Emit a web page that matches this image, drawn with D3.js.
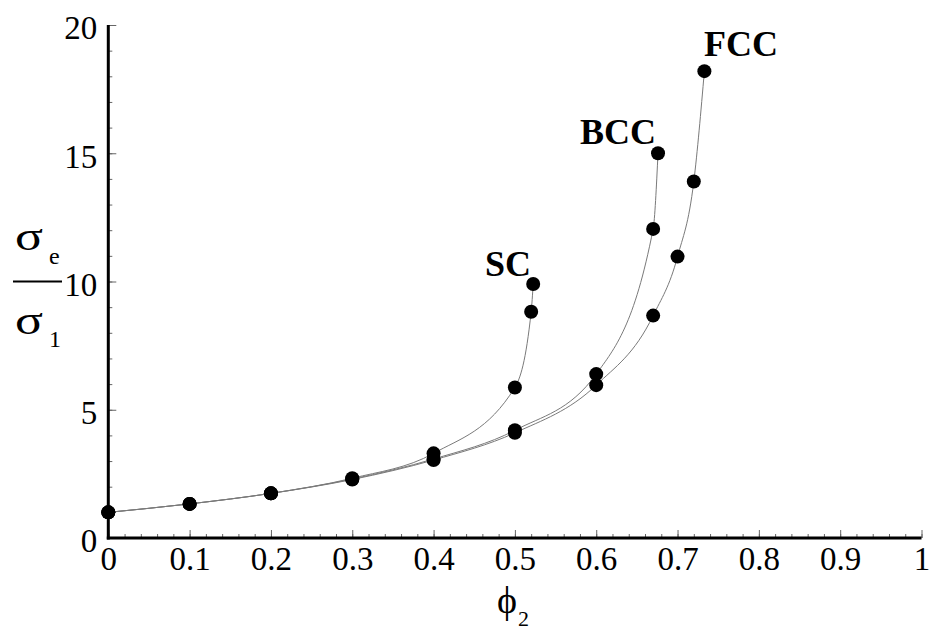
<!DOCTYPE html>
<html>
<head>
<meta charset="utf-8">
<script src="https://cdn.jsdelivr.net/npm/d3@7"></script>
<style>
  html, body { margin: 0; padding: 0; background: #fff; }
  svg { display: block; }
  text { font-family: "Liberation Serif", "Times New Roman", serif; fill: #000; }
</style>
</head>
<body>
<svg id="chart" width="929" height="633"></svg>
<script>
// ---- data ----
const scX   = [0, 0.1, 0.2, 0.3, 0.4, 0.5, 0.52, 0.5225];
const scY   = [1.0, 1.33, 1.74, 2.33, 3.3, 5.87, 8.82, 9.9];
const bccX  = [0, 0.1, 0.2, 0.3, 0.4, 0.5, 0.6, 0.67, 0.676];
const bccY  = [1.0, 1.33, 1.74, 2.3, 3.08, 4.2, 6.39, 12.05, 15.0];
const fccX  = [0, 0.1, 0.2, 0.3, 0.4, 0.5, 0.6, 0.67, 0.7, 0.72, 0.733];
const fccY  = [1.0, 1.33, 1.74, 2.28, 3.04, 4.1, 5.96, 8.67, 10.97, 13.9, 18.2];
const seriesNames = ["SC", "BCC", "FCC"];
const xTicks = [0, 0.1, 0.2, 0.3, 0.4, 0.5, 0.6, 0.7, 0.8, 0.9, 1];
const xTickLabels = ["0", "0.1", "0.2", "0.3", "0.4", "0.5", "0.6", "0.7", "0.8", "0.9", "1"];
const yTicks = [0, 5, 10, 15, 20];
const yTickLabels = ["0", "5", "10", "15", "20"];

const series = [
  { name: seriesNames[0], xs: scX,  ys: scY },
  { name: seriesNames[1], xs: bccX, ys: bccY },
  { name: seriesNames[2], xs: fccX, ys: fccY }
];

const svg = d3.select("#chart");
const x = d3.scaleLinear().domain([0, 1]).range([108.3, 921.5]);
const y = d3.scaleLinear().domain([0, 20]).range([538, 25]);

// minor ticks
const xMinor = d3.range(0, 1.0001, 0.02);
const yMinor = d3.range(0, 20.0001, 1);

const gx = svg.append("g").attr("transform", `translate(0,${y(0)})`);
gx.call(d3.axisBottom(x).tickValues(xMinor).tickSize(-4).tickFormat(""))
  .call(g => g.select(".domain").remove())
  .call(g => g.selectAll("line").attr("stroke", "#666").attr("stroke-width", 1));
const gx2 = svg.append("g").attr("transform", `translate(0,${y(0)})`);
gx2.call(d3.axisBottom(x).tickValues(xTicks).tickSize(-8).tickPadding(9)
      .tickFormat((d, i) => xTickLabels[i]))
  .call(g => g.select(".domain").remove())
  .call(g => g.selectAll("line").attr("stroke", "#666").attr("stroke-width", 1))
  .call(g => g.selectAll("text").attr("font-size", 33).attr("font-family", "Liberation Serif").attr("fill", "#000"));

const gy = svg.append("g").attr("transform", `translate(${x(0)},0)`);
gy.call(d3.axisLeft(y).tickValues(yMinor).tickSize(-4).tickFormat(""))
  .call(g => g.select(".domain").remove())
  .call(g => g.selectAll("line").attr("stroke", "#666").attr("stroke-width", 1));
const gy2 = svg.append("g").attr("transform", `translate(${x(0)},0)`);
gy2.call(d3.axisLeft(y).tickValues(yTicks).tickSize(-8).tickPadding(11)
      .tickFormat((d, i) => yTickLabels[i]))
  .call(g => g.select(".domain").remove())
  .call(g => g.selectAll("line").attr("stroke", "#666").attr("stroke-width", 1))
  .call(g => g.selectAll("text").attr("font-size", 33).attr("dy", "0.42em")
      .attr("font-family", "Liberation Serif").attr("fill", "#000"));

// axis lines
svg.append("line").attr("x1", x(0)).attr("x2", x(0)).attr("y1", y(20)).attr("y2", y(0) + 1.5)
  .attr("stroke", "#000").attr("stroke-width", 3);
svg.append("line").attr("x1", x(0) - 1.5).attr("x2", x(1)).attr("y1", y(0)).attr("y2", y(0))
  .attr("stroke", "#000").attr("stroke-width", 3);

// curves
const line = d3.line().x(d => x(d[0])).y(d => y(d[1])).curve(d3.curveMonotoneX);
series.forEach(s => {
  const pts = s.xs.map((v, i) => [v, s.ys[i]]);
  svg.append("path").attr("d", line(pts)).attr("fill", "none")
    .attr("stroke", "#7a7a7a").attr("stroke-width", 1);
});
series.forEach(s => {
  svg.append("g").selectAll("circle")
    .data(s.xs.map((v, i) => [v, s.ys[i]]))
    .join("circle")
    .attr("cx", d => x(d[0])).attr("cy", d => y(d[1])).attr("r", 7)
    .attr("fill", "#000");
});

// series labels
const labelPos = [
  { x: 485, y: 276 },
  { x: 580, y: 144 },
  { x: 704, y: 56 }
];
series.forEach((s, i) => {
  svg.append("text").attr("x", labelPos[i].x).attr("y", labelPos[i].y)
    .attr("font-size", 36).attr("font-weight", "bold").text(s.name);
});

// y-axis label: sigma_e / sigma_1
svg.append("text").attr("transform", "translate(15,250) scale(1.3,1)").attr("font-size", 40).text("σ");
svg.append("text").attr("x", 49).attr("y", 264).attr("font-size", 24).text("e");
svg.append("line").attr("x1", 13).attr("x2", 62).attr("y1", 281.5).attr("y2", 281.5)
  .attr("stroke", "#000").attr("stroke-width", 2);
svg.append("text").attr("transform", "translate(15,334) scale(1.3,1)").attr("font-size", 40).text("σ");
svg.append("text").attr("x", 49).attr("y", 347).attr("font-size", 24).text("1");

// x-axis label: phi_2
svg.append("text").attr("x", 497).attr("y", 613).attr("font-size", 38).text("ϕ");
svg.append("text").attr("x", 518).attr("y", 626).attr("font-size", 22).text("2");
</script>
</body>
</html>
